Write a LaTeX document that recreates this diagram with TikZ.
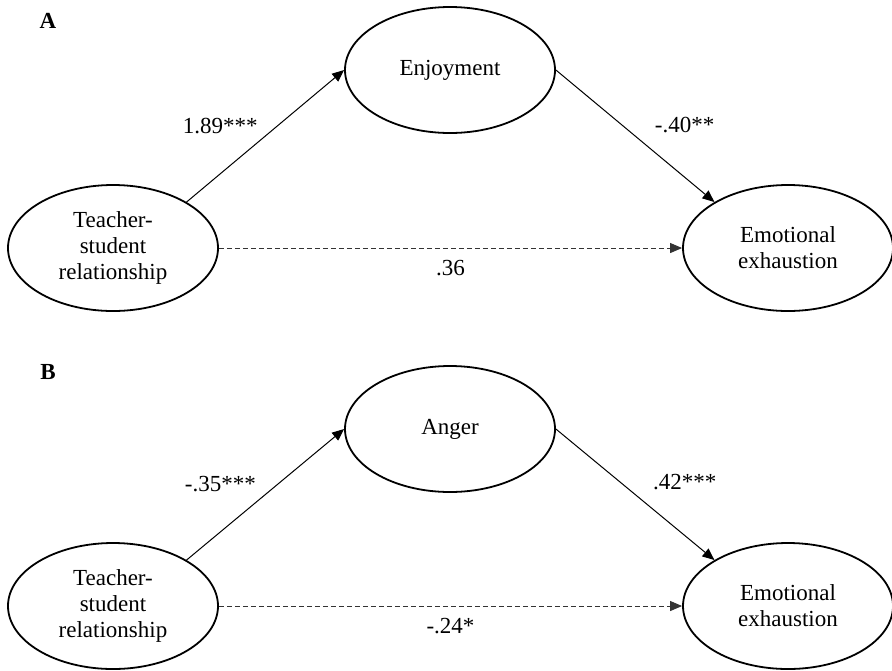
\documentclass[tikz,border=0pt]{standalone}
\usepackage{fontspec}
\setmainfont{Liberation Serif}
\usetikzlibrary{shapes.geometric,arrows.meta,positioning}

\tikzset{
  latent/.style={draw, ellipse, line width=0.9pt, minimum width=105pt, minimum height=63pt, inner sep=0pt, align=center},
  coef/.style={inner sep=0pt},
  panel/.style={font=\fontsize{11.5}{13}\selectfont\bfseries},
  direct/.style={dash pattern=on 2.5pt off 1.5pt, draw=black!80},
}

\begin{document}
\begin{tikzpicture}[x=0.5pt, y=-0.5pt, font=\fontsize{11.5}{13}\selectfont]
        \useasboundingbox (0,0) rectangle (892,670);
        % panel A
        \node[panel] at (48,21) (labA) {A};
        \node[latent] at (113,248) (tsrA) {Teacher-\\student\\relationship};
        \node[latent] at (450,70) (enjA) {Enjoyment};
        \node[latent] at (788,248) (eeA) {Emotional\\exhaustion};
        % panel B
        \node[panel] at (48,372) (labB) {B};
        \node[latent] at (113,606) (tsrB) {Teacher-\\student\\relationship};
        \node[latent] at (450,429) (angB) {Anger};
        \node[latent] at (788,606) (eeB) {Emotional\\exhaustion};
        \path[-{Triangle[length=6pt,width=5pt]}, line width=0.5pt]
        (tsrA.32) edge node[coef, xshift=-22.5pt, yshift=5pt] {1.89***} (enjA.west)
        (enjA.east) edge node[coef, xshift=24.75pt, yshift=5.5pt] {-.40**} (eeA.148)
        (tsrA.east) edge[direct] node[coef, yshift=-10pt] {.36} (eeA.west)
        (tsrB.32) edge node[coef, xshift=-22.5pt, yshift=5pt] {-.35***} (angB.west)
        (angB.east) edge node[coef, xshift=24.75pt, yshift=6pt] {.42***} (eeB.148)
        (tsrB.east) edge[direct] node[coef, yshift=-10pt] {-.24*} (eeB.west)
        ;
\end{tikzpicture}
\end{document}
